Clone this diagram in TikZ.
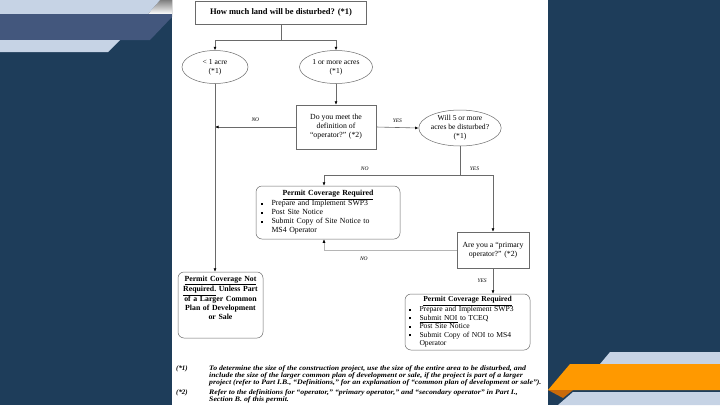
\documentclass[tikz,border=0pt]{standalone}
\usepackage{fontspec}
\usepackage{graphicx}
\setmainfont{Liberation Serif}
\usetikzlibrary{shapes.geometric,arrows.meta}
\definecolor{navy}{HTML}{1E3D5A}
\definecolor{lightb}{HTML}{C6D3E5}
\definecolor{midb}{HTML}{43577D}
\definecolor{shade}{HTML}{17293F}
\definecolor{orng}{HTML}{FF9900}
\definecolor{dorng}{HTML}{C96A0A}
\definecolor{ln}{HTML}{6A6A6A}
\newcommand\bul{\makebox[11pt][l]{\rule[0.9pt]{2.2pt}{2.2pt}}}
\newcommand\ind{\hspace*{11pt}}
\begin{document}
\begin{tikzpicture}[x=1pt,y=-1pt,
  box/.style={draw=ln, line width=0.5pt, fill=white, inner sep=1pt, align=center,
    font=\fontsize{7.8}{9}\selectfont},
  oval/.style={ellipse, draw=ln, line width=0.5pt, fill=white, inner sep=0pt, align=center,
    font=\fontsize{7.6}{9}\selectfont},
  rbox/.style={box, rounded corners=6pt},
  conn/.style={draw=ln, line width=0.6pt},
  arr/.style={conn, -{Latex[length=3.5pt,width=3pt,color=black]}},
  lab/.style={font=\fontsize{5.5}{6}\selectfont\itshape, inner sep=0pt},
  fn/.style={font=\fontsize{6.9}{7}\selectfont\bfseries\itshape, inner sep=0pt}
]
\useasboundingbox (0,0) rectangle (720,405);
% background
\fill[navy] (0,0) rectangle (720,405);
\fill[white] (172,0) rectangle (548,405);
% top-left decoration
\fill[shade] (148,14) -- (160,0) -- (172,0) -- (172,14) -- cycle;
\fill[lightb] (0,0) -- (160,0) -- (148,14) -- (0,14) -- cycle;
\fill[midb] (0,14) -- (172,14) -- (172,17) -- (150,40) -- (0,40) -- cycle;
\fill[lightb] (0,40) -- (120,40) -- (108,52) -- (0,52) -- cycle;
% bottom-right decoration
\fill[lightb] (610,352) -- (720,352) -- (720,364) -- (600,364) -- cycle;
\fill[orng] (570,364) -- (720,364) -- (720,390) -- (548,390) -- cycle;
\fill[dorng] (548,390) -- (573,390) -- (563,398) -- cycle;
\fill[lightb] (573,392) -- (720,392) -- (720,405) -- (558,405) -- cycle;

% nodes
\node[box, minimum width=171pt, minimum height=23pt, font=\fontsize{8.5}{10}\selectfont\bfseries]
  (top) at (281,12.5) {How much land will be disturbed? (*1)};
\node[oval, minimum width=66pt, minimum height=33pt] (e1) at (215,67) {< 1 acre\\(*1)};
\node[oval, minimum width=73pt, minimum height=33pt] (e2) at (336,67) {1 or more acres\\(*1)};
\node[box, minimum width=80pt, minimum height=44pt] (q1) at (336,127)
  {Do you meet the\\definition of\\“operator?” (*2)};
\node[oval, minimum width=80pt, minimum height=36pt] (e3) at (460,128)
  {Will 5 or more\\acres be disturbed?\\(*1)};
\node[rbox, minimum width=144pt, minimum height=53pt, text width=135pt, align=left] (p1) at (328,212.5)
  {\makebox[135pt][c]{\textbf{\underline{Permit Coverage Required}}}\\
   \bul Prepare and Implement SWP3\\
   \bul Post Site Notice\\
   \bul Submit Copy of Site Notice to\\
   \ind MS4 Operator};
\node[box, minimum width=72pt, minimum height=36pt] (q2) at (493,250)
  {Are you a “primary\\operator?” (*2)};
\node[rbox, minimum width=85pt, minimum height=66pt, text width=82pt, font=\fontsize{7.8}{9}\selectfont\bfseries] (np) at (220.5,305)
  {\underline{Permit Coverage Not}\\\underline{Required.} Unless Part\\of a Larger Common\\Plan of Development\\or Sale\\[5pt]\mbox{}};
\node[rbox, minimum width=125pt, minimum height=56pt, text width=118pt, align=left,
  font=\fontsize{7.6}{8.5}\selectfont] (p2) at (467.5,322)
  {\makebox[118pt][c]{\textbf{\underline{Permit Coverage Required}}}\\
   \bul Prepare and Implement SWP3\\
   \bul \underline{Submit NOI} to TCEQ\\
   \bul Post Site Notice\\
   \bul Submit Copy of NOI to MS4\\
   \ind Operator};

% connectors
\coordinate (j1) at (281,40);
\coordinate (j2) at (460,175);
\draw[conn] (top.south) -- (j1);
\draw[arr] (j1) -| (e1.north);
\draw[arr] (j1) -| (e2.north);
\draw[arr] (e2.south) -- (q1.north);
\draw[arr] (q1.west) -- (q1.west -| e1.south) node[lab, pos=0.5, above=5pt] {NO};
\draw[arr] (q1.east) -- (e3.west) node[lab, pos=0.5, above=5pt] {YES};
\draw[arr] (e1.south) -- (e1.south |- np.north);
\draw[conn] (e3.south) -- (j2);
\draw[arr] (j2) -| (324,0 |- p1.north) node[lab, pos=0.35, above=4pt] {NO};
\draw[arr] (j2) -| (q2.north) node[lab, pos=0.22, above=4pt] {YES};
\draw[arr, draw=ln!50] (q2.west) -| (324,0 |- p1.south) node[lab, pos=0.35, below=7pt] {NO};
\draw[arr] (q2.south) -- (q2.south |- p2.north) node[lab, midway, left=6pt] {YES};

% footnotes
\node[fn, anchor=north west] (f1m) at (176,365.5) {(*1)};
\node[fn, anchor=north west] (f1) at (209,365.5)
  {\scalebox{1.13}[1]{\begin{tabular}{@{}l@{}}To determine the size of the construction project, use the size of the entire area to be disturbed, and\\
   include the size of the larger common plan of development or sale, if the project is part of a larger\\
   project (refer to Part I.B., “Definitions,” for an explanation of “common plan of development or sale”).\end{tabular}}};
\node[fn, anchor=north west] (f2m) at (176,389.5) {(*2)};
\node[fn, anchor=north west] (f2) at (209,389.5)
  {\scalebox{1.13}[1]{\begin{tabular}{@{}l@{}}Refer to the definitions for “operator,” “primary operator,” and “secondary operator” in Part I.,\\
   Section B. of this permit.\end{tabular}}};
\end{tikzpicture}
\end{document}
